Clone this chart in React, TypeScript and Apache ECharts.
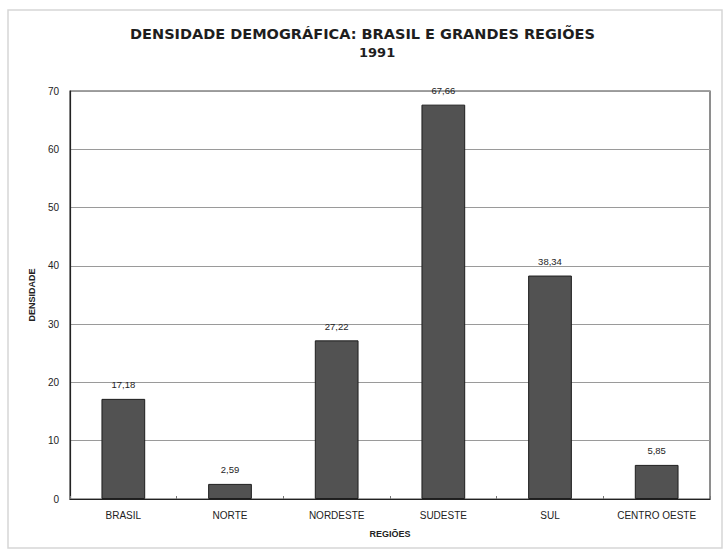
import React, { useEffect, useRef } from "react";
import * as echarts from "echarts";

const categories = ["BRASIL", "NORTE", "NORDESTE", "SUDESTE", "SUL", "CENTRO OESTE"];
const densidade = [17.18, 2.59, 27.22, 67.66, 38.34, 5.85];
const yTicks = { min: 0, max: 70, interval: 10 };
const titleLine1 = "DENSIDADE DEMOGRÁFICA: BRASIL E GRANDES REGIÕES";
const titleLine2 = "1991";

export default function App() {
  const ref = useRef<HTMLDivElement>(null);
  useEffect(() => {
    if (!ref.current) return;
    const chart = echarts.init(ref.current, null, { renderer: "svg" });
    chart.setOption({
      animation: false,
      backgroundColor: "#ffffff",
      graphic: [
        {
          type: "rect",
          shape: { x: 8, y: 10, width: 714, height: 538 },
          style: { fill: "none", stroke: "#d6d6d6", lineWidth: 1.5 },
          silent: true,
        },
      ],
      title: [
        {
          text: titleLine1,
          left: "center",
          top: 21,
          textStyle: { fontFamily: "DejaVu Sans", fontWeight: "bold", fontSize: 14.5, color: "#1e1e1e" },
        },
        {
          text: titleLine2,
          left: 354,
          top: 41,
          textStyle: { fontFamily: "DejaVu Sans", fontWeight: "bold", fontSize: 13, color: "#1e1e1e" },
        },
      ],
      grid: {
        left: 70,
        right: 15,
        top: 91,
        bottom: 52,
        show: true,
        borderColor: "#444",
        borderWidth: 1.2,
        backgroundColor: "transparent",
      },
      xAxis: {
        type: "category",
        data: categories,
        name: "REGIÕES",
        nameLocation: "middle",
        nameGap: 30,
        nameTextStyle: { fontFamily: "Liberation Sans", fontSize: 9, color: "#222", fontWeight: "bold" },
        axisLine: { lineStyle: { color: "#222", width: 1.2 } },
        axisTick: { show: true, length: 3, inside: true, lineStyle: { color: "#777" } },
        axisLabel: { fontFamily: "Liberation Sans", fontSize: 10, color: "#222", margin: 11 },
      },
      yAxis: {
        type: "value",
        min: yTicks.min,
        max: yTicks.max,
        interval: yTicks.interval,
        name: "DENSIDADE",
        nameLocation: "middle",
        nameGap: 28,
        nameTextStyle: { fontFamily: "Liberation Sans", fontSize: 9, color: "#222", fontWeight: "bold" },
        axisLine: { show: true, lineStyle: { color: "#222", width: 1.2 } },
        axisTick: { show: false },
        axisLabel: { fontFamily: "Liberation Sans", fontSize: 10, color: "#222", margin: 11 },
        splitLine: { show: true, lineStyle: { color: "#9a9a9a", width: 1 } },
      },
      series: [
        {
          type: "bar",
          data: densidade,
          barWidth: "41%",
          itemStyle: { color: "#525252", borderColor: "#1e1e1e", borderWidth: 1 },
          label: {
            show: true,
            position: "top",
            distance: 9,
            fontFamily: "Liberation Sans",
            fontSize: 9.5,
            color: "#1e1e1e",
            formatter: (p: any) => Number(p.value).toFixed(2).replace(".", ","),
          },
        },
      ],
    });
    return () => chart.dispose();
  }, []);
  return (
    <div
      ref={ref}
      style={{ position: "fixed", left: 0, top: 0, width: 725, height: 551 }}
    />
  );
}
